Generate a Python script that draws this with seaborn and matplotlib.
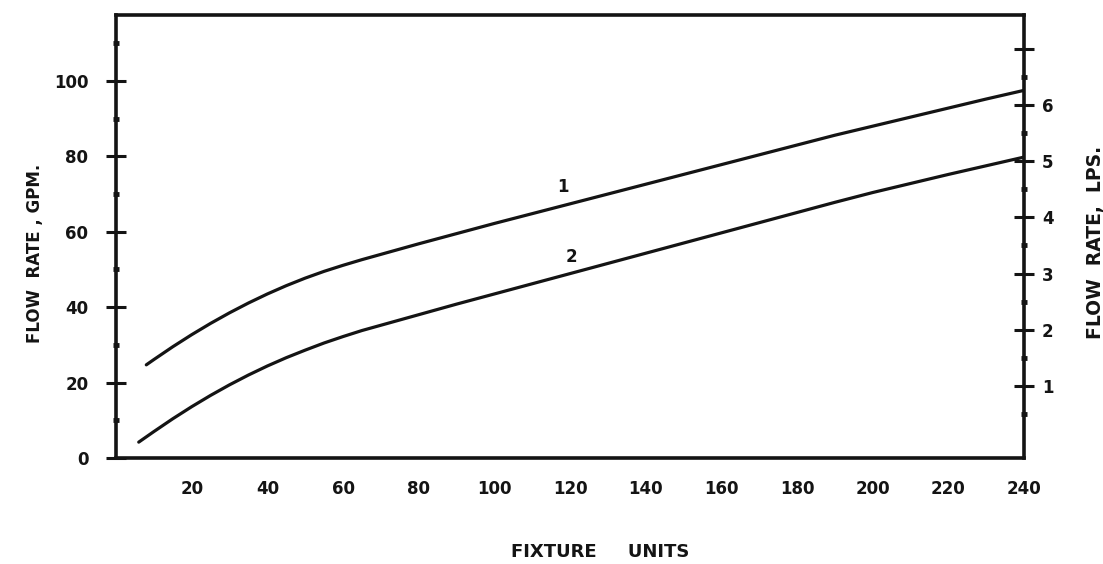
import numpy as np
import pandas as pd
import matplotlib
matplotlib.use("Agg")
import matplotlib.pyplot as plt
from matplotlib.ticker import FixedLocator, NullFormatter
import seaborn as sns

# Fixture units and flow rate (gpm) for the two demand curves
fixture_units_1 = [8, 10, 15, 20, 25, 30, 35, 40, 45, 50, 55, 60, 65, 70,
                   80, 90, 100, 110, 120, 130, 140, 150, 160, 170, 180, 190,
                   200, 210, 220, 230, 240]
flow_gpm_1 = [24.7, 26.1, 29.5, 32.7, 35.7, 38.5, 41.1, 43.5, 45.7, 47.7, 49.5,
              51.1, 52.6, 54.0, 56.8, 59.5, 62.2, 64.8, 67.4, 70.0, 72.6, 75.2,
              77.8, 80.4, 83.0, 85.6, 88.0, 90.4, 92.8, 95.2, 97.5]

fixture_units_2 = [6, 10, 15, 20, 25, 30, 35, 40, 45, 50, 55, 60, 65, 70,
                   80, 90, 100, 110, 120, 130, 140, 150, 160, 170, 180, 190,
                   200, 210, 220, 230, 240]
flow_gpm_2 = [4.2, 7.0, 10.4, 13.6, 16.6, 19.4, 22.0, 24.4, 26.6, 28.6, 30.5,
              32.2, 33.8, 35.2, 38.0, 40.8, 43.5, 46.2, 48.9, 51.6, 54.3, 57.0,
              59.7, 62.4, 65.1, 67.8, 70.4, 72.8, 75.2, 77.5, 79.8]

curve_names = ["1", "2"]
label_x = [118, 120.5]
label_y = [71.8, 53.2]

x_major = [20, 40, 60, 80, 100, 120, 140, 160, 180, 200, 220, 240]
x_minor = [10, 30, 50, 70, 90, 110, 130, 150, 170, 190, 210, 230]
y_major = [0, 20, 40, 60, 80, 100]
y_minor = [10, 30, 50, 70, 90, 110]
lps_major = [1, 2, 3, 4, 5, 6, 7]
lps_labels = ["1", "2", "3", "4", "5", "6", ""]
lps_minor = [0.5, 1.5, 2.5, 3.5, 4.5, 5.5, 6.5]

INK = "#141414"

sns.set_style("white")
plt.rcParams["font.family"] = ["DejaVu Sans"]
plt.rcParams["font.weight"] = "bold"

df = pd.concat([
    pd.DataFrame({"fu": fixture_units_1, "gpm": flow_gpm_1, "curve": "1"}),
    pd.DataFrame({"fu": fixture_units_2, "gpm": flow_gpm_2, "curve": "2"}),
])

fig = plt.figure(figsize=(11.03, 5.64), dpi=100)
ax = fig.add_axes([0.1052, 0.188, 0.8232, 0.7855])

sns.lineplot(data=df, x="fu", y="gpm", hue="curve", palette=[INK, INK],
             linewidth=2.3, legend=False, ax=ax)

ax.set_xlim(0, 240)
ax.set_ylim(0, 117.5)

for side in ["left", "right", "top", "bottom"]:
    ax.spines[side].set_visible(True)
    ax.spines[side].set_linewidth(2.6)
    ax.spines[side].set_color(INK)

ax.xaxis.set_major_locator(FixedLocator(x_major))
ax.xaxis.set_minor_locator(FixedLocator(x_minor))
ax.yaxis.set_major_locator(FixedLocator(y_major))
ax.yaxis.set_minor_locator(FixedLocator(y_minor))
ax.set_xticklabels([str(v) for v in x_major])
ax.set_yticklabels([str(v) for v in y_major])
ax.tick_params(axis="both", which="major", direction="inout", length=14, width=2.2,
               color=INK, labelsize=12, labelcolor=INK)
ax.tick_params(axis="both", which="minor", direction="inout", length=4, width=3.5,
               color=INK)
ax.tick_params(axis="x", which="major", pad=9)
ax.tick_params(axis="y", which="major", pad=13)
for lbl in ax.get_xticklabels() + ax.get_yticklabels():
    lbl.set_fontweight("bold")

ax.set_xlabel("")
ax.set_ylabel("")

# Secondary scale in litres per second
ax2 = ax.twinx()
ax2.set_ylim(-0.28, 7.6)
ax2.yaxis.set_major_locator(FixedLocator(lps_major))
ax2.yaxis.set_minor_locator(FixedLocator(lps_minor))
ax2.set_yticklabels(lps_labels)
ax2.yaxis.set_minor_formatter(NullFormatter())
ax2.tick_params(axis="y", which="major", direction="inout", length=14, width=2.2,
                color=INK, labelsize=12, labelcolor=INK, pad=6)
ax2.tick_params(axis="y", which="minor", direction="inout", length=4, width=3.5,
                color=INK)
for lbl in ax2.get_yticklabels():
    lbl.set_fontweight("bold")
for side in ["left", "right", "top", "bottom"]:
    ax2.spines[side].set_visible(False)

for name, lx, ly in zip(curve_names, label_x, label_y):
    ax.text(lx, ly, name, fontsize=12, fontweight="bold", color=INK,
            ha="center", va="center")

fig.text(0.032, 0.55, "FLOW  RATE , GPM.", rotation=90, ha="center", va="center",
         fontsize=12, fontweight="bold", color=INK)
fig.text(0.993, 0.57, "FLOW  RATE,  LPS.", rotation=90, ha="center", va="center",
         fontsize=13.5, fontweight="bold", color=INK)
fig.text(0.544, 0.022, "FIXTURE     UNITS", ha="center", va="center",
         fontsize=13, fontweight="bold", color=INK)

fig.savefig("out.png", dpi=100, facecolor="white")
